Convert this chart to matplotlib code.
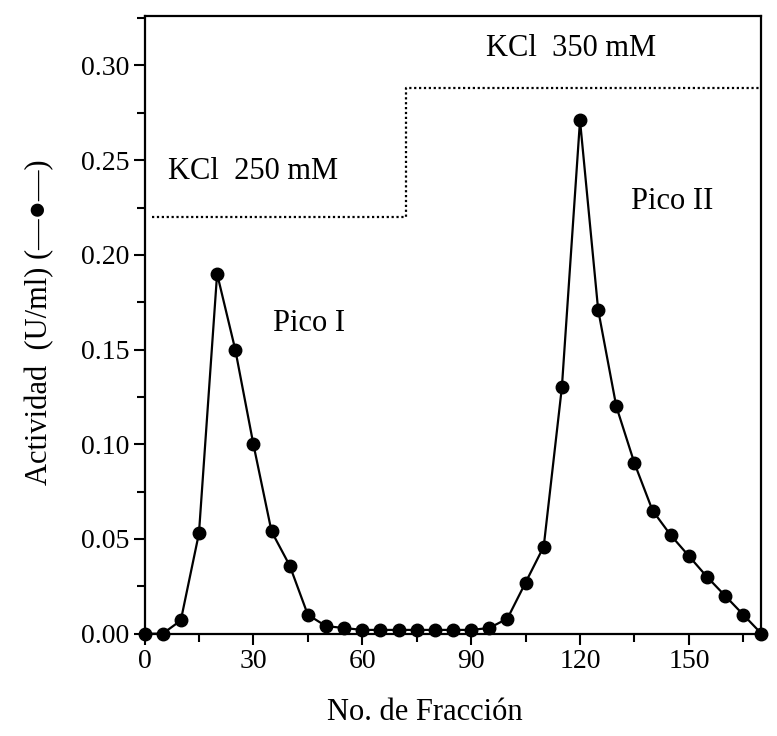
import matplotlib
matplotlib.use("Agg")
import matplotlib.pyplot as plt
from matplotlib.ticker import MultipleLocator, FormatStrFormatter

plt.rcParams['font.family'] = ['Liberation Serif', 'DejaVu Sans']

# fraction number vs activity (U/ml)
fraccion = [0, 5, 10, 15, 20, 25, 30, 35, 40, 45, 50, 55, 60, 65, 70, 75, 80, 85,
            90, 95, 100, 105, 110, 115, 120, 125, 130, 135, 140, 145, 150, 155,
            160, 165, 170]
actividad = [0.0, 0.0, 0.007, 0.053, 0.190, 0.150, 0.100, 0.054, 0.036, 0.010,
             0.004, 0.003, 0.002, 0.002, 0.002, 0.002, 0.002, 0.002, 0.002, 0.003,
             0.008, 0.027, 0.046, 0.130, 0.271, 0.171, 0.120, 0.090, 0.065, 0.052,
             0.041, 0.030, 0.020, 0.010, 0.0]

# KCl step gradient (dotted)
kcl_x = [2, 72, 72, 170]
kcl_y = [0.220, 0.220, 0.288, 0.288]

fig = plt.figure(figsize=(7.77, 7.36), dpi=100)
ax = fig.add_axes([0.186, 0.139, 0.794, 0.839])

ax.plot(kcl_x, kcl_y, color='black', lw=1.6, linestyle=(0, (1, 1.2)), clip_on=False)
ax.plot(fraccion, actividad, color='black', lw=1.6, marker='o', markersize=9,
        markerfacecolor='black', clip_on=False, zorder=5)

ax.set_xlim(0, 170)
ax.set_ylim(0, 0.326)

ax.xaxis.set_major_locator(MultipleLocator(30))
ax.xaxis.set_minor_locator(MultipleLocator(15))
ax.yaxis.set_major_locator(MultipleLocator(0.05))
ax.yaxis.set_minor_locator(MultipleLocator(0.025))
ax.yaxis.set_major_formatter(FormatStrFormatter('%.2f'))

ax.tick_params(which='both', direction='out', width=1.5, labelsize=20, pad=3,
               top=False, right=False)
ax.tick_params(which='major', length=8)
ax.tick_params(which='minor', length=6)
for s in ax.spines.values():
    s.set_linewidth(1.6)

ax.text(6.5, 0.244, 'KCl  250 mM', fontsize=22, va='center', ha='left')
ax.text(94, 0.309, 'KCl  350 mM', fontsize=22, va='center', ha='left')
ax.text(35.5, 0.164, 'Pico I', fontsize=22, va='center', ha='left')
ax.text(134, 0.228, 'Pico II', fontsize=22, va='center', ha='left')

fig.text(40 / 777, 0.562, 'Actividad  (U/ml) (\u2014\u25cf\u2014)', rotation=90,
         fontsize=22, ha='center', va='center')
fig.text(425 / 777, 1 - 712 / 736, 'No. de Fracción', fontsize=22,
         ha='center', va='center')

fig.savefig('out.png', dpi=100)
